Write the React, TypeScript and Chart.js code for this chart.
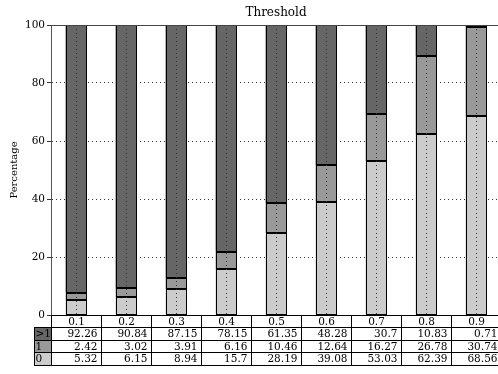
import React, { useEffect, useRef } from 'react';
import { Chart, registerables } from 'chart.js';

Chart.register(...registerables);

const thresholds = ['0.1', '0.2', '0.3', '0.4', '0.5', '0.6', '0.7', '0.8', '0.9'];
const moreThanOne = [92.26, 90.84, 87.15, 78.15, 61.35, 48.28, 30.7, 10.83, 0.71];
const exactlyOne = [2.42, 3.02, 3.91, 6.16, 10.46, 12.64, 16.27, 26.78, 30.74];
const zeroVals = [5.32, 6.15, 8.94, 15.7, 28.19, 39.08, 53.03, 62.39, 68.56];
const rowLabels = ['>1', '1', '0'];
const rowValues = [moreThanOne, exactlyOne, zeroVals];

const DARK = '#666666';
const MID = '#999999';
const LIGHT = '#cccccc';
const rowColors = [DARK, MID, LIGHT];
const FONT = '"DejaVu Serif", "Liberation Serif", serif';

const decorPlugin = {
  id: 'decor',
  afterDatasetsDraw(chart: any) {
    const ctx: CanvasRenderingContext2D = chart.ctx;
    const area = chart.chartArea;
    const xs = chart.scales.x;
    ctx.save();
    ctx.strokeStyle = '#000';
    ctx.lineWidth = 1;
    chart.data.datasets.forEach((_: any, di: number) => {
      const meta = chart.getDatasetMeta(di);
      meta.data.forEach((el: any) => {
        const p = el.getProps(['x', 'y', 'base', 'width'], true);
        const l = Math.round(p.x - p.width / 2) + 0.5;
        const rr = Math.round(p.x + p.width / 2) - 0.5;
        const t = Math.round(Math.min(p.y, p.base)) + 0.5;
        const b = Math.round(Math.max(p.y, p.base)) - 0.5;
        ctx.strokeRect(l, t, rr - l, Math.max(b - t, 0));
      });
    });
    ctx.strokeStyle = '#333';
    ctx.setLineDash([1, 3]);
    for (let i = 0; i < thresholds.length; i++) {
      const x = Math.round(xs.getPixelForValue(i)) + 0.5;
      ctx.beginPath();
      ctx.moveTo(x, area.top);
      ctx.lineTo(x, area.bottom);
      ctx.stroke();
    }
    ctx.restore();
  },
  afterDraw(chart: any) {
    const ctx: CanvasRenderingContext2D = chart.ctx;
    const area = chart.chartArea;
    const xs = chart.scales.x;
    const n = thresholds.length;
    const colW = (area.right - area.left) / n;
    const r = (v: number) => Math.round(v) + 0.5;

    ctx.save();
    ctx.strokeStyle = '#444';
    ctx.lineWidth = 1;
    ctx.beginPath();
    ctx.moveTo(area.left, r(area.top));
    ctx.lineTo(area.right, r(area.top));
    ctx.stroke();

    ctx.fillStyle = '#000';
    ctx.font = `12px ${FONT}`;
    ctx.textAlign = 'center';
    ctx.textBaseline = 'middle';
    ctx.fillText('Threshold', (area.left + area.right) / 2, 12.5);

    ctx.save();
    ctx.translate(14, (area.top + area.bottom) / 2);
    ctx.rotate(-Math.PI / 2);
    ctx.font = `10px ${FONT}`;
    ctx.fillText('Percentage', 0, 0);
    ctx.restore();

    const top = area.bottom;
    const rh = 12.4;
    const labelW = 17;
    ctx.font = `10.5px ${FONT}`;
    ctx.textBaseline = 'middle';
    ctx.strokeStyle = '#000';
    ctx.lineWidth = 1;

    for (let i = 0; i < n; i++) {
      const cx = xs.getPixelForValue(i);
      const x0 = r(cx - colW / 2);
      const x1 = r(cx + colW / 2);
      const y0 = r(top);
      const y1 = r(top + rh);
      ctx.fillStyle = '#fff';
      ctx.fillRect(x0, y0, x1 - x0, y1 - y0);
      ctx.strokeRect(x0, y0, x1 - x0, y1 - y0);
      ctx.fillStyle = '#000';
      ctx.textAlign = 'center';
      ctx.fillText(thresholds[i], (x0 + x1) / 2, (y0 + y1) / 2 + 0.5);
    }

    for (let k = 0; k < rowLabels.length; k++) {
      const y0 = r(top + rh * (k + 1));
      const y1 = r(top + rh * (k + 2));
      const lx0 = r(area.left - labelW);
      const lx1 = r(area.left);
      ctx.fillStyle = rowColors[k];
      ctx.fillRect(lx0, y0, lx1 - lx0, y1 - y0);
      ctx.strokeRect(lx0, y0, lx1 - lx0, y1 - y0);
      ctx.fillStyle = '#000';
      ctx.textAlign = 'left';
      ctx.fillText(rowLabels[k], lx0 + 1, (y0 + y1) / 2 + 0.5);
      for (let i = 0; i < n; i++) {
        const cx = xs.getPixelForValue(i);
        const x0 = r(cx - colW / 2);
        const x1 = r(cx + colW / 2);
        ctx.fillStyle = '#fff';
        ctx.fillRect(x0, y0, x1 - x0, y1 - y0);
        ctx.strokeRect(x0, y0, x1 - x0, y1 - y0);
        ctx.fillStyle = '#000';
        ctx.textAlign = 'right';
        ctx.fillText(String(rowValues[k][i]), x1 - 4, (y0 + y1) / 2 + 0.5);
      }
    }
    ctx.restore();
  },
};

export default function App() {
  const ref = useRef<HTMLCanvasElement>(null);

  useEffect(() => {
    if (!ref.current) return;
    const chart = new Chart(ref.current, {
      type: 'bar',
      data: {
        labels: thresholds,
        datasets: [
          { label: '0', data: zeroVals, backgroundColor: LIGHT, borderWidth: 0 },
          { label: '1', data: exactlyOne, backgroundColor: MID, borderWidth: 0 },
          { label: '>1', data: moreThanOne, backgroundColor: DARK, borderWidth: 0 },
        ],
      },
      options: {
        responsive: false,
        animation: false,
        devicePixelRatio: 1,
        layout: { padding: { top: 25, bottom: 59, left: 0, right: 3 } },
        plugins: {
          legend: { display: false },
          title: { display: false },
          tooltip: { enabled: false },
        },
        datasets: {
          bar: { categoryPercentage: 1, barPercentage: 0.42 },
        },
        scales: {
          x: {
            stacked: true,
            offset: true,
            ticks: { display: false },
            border: { display: false },
            grid: { display: false, drawTicks: false },
            afterFit(scale: any) {
              scale.height = 0;
            },
          },
          y: {
            stacked: true,
            min: 0,
            max: 100,
            z: 1,
            ticks: {
              stepSize: 20,
              color: '#000',
              padding: 2,
              font: { family: FONT, size: 10.5 },
            },
            border: { display: true, color: '#555', width: 1, dash: [1, 3] },
            grid: {
              drawTicks: true,
              tickLength: 4,
              tickColor: '#333',
              tickBorderDash: [],
              color: (c: any) =>
                c.tick && (c.tick.value === 0 || c.tick.value === 100) ? 'rgba(0,0,0,0)' : '#333',
              lineWidth: 1,
            },
            afterFit(scale: any) {
              scale.width = 51;
            },
          },
        },
      },
      plugins: [decorPlugin],
    } as any);
    return () => chart.destroy();
  }, []);

  return (
    <div style={{ position: 'fixed', left: 0, top: 0, width: 498, height: 374, overflow: 'hidden', background: '#fff' }}>
      <canvas ref={ref} width={504} height={374} style={{ display: 'block' }} />
    </div>
  );
}
